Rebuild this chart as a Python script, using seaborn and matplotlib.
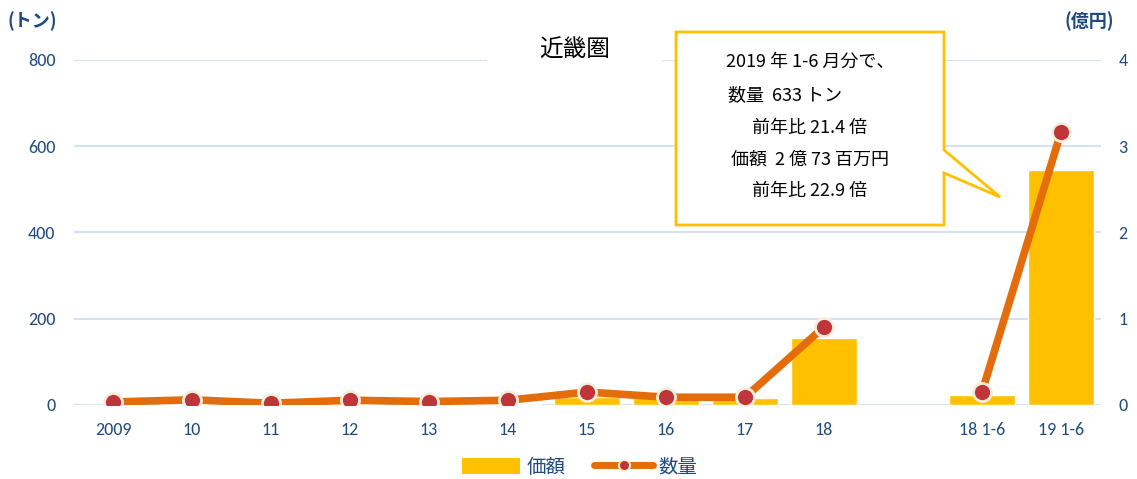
import numpy as np
import pandas as pd
import seaborn as sns
import matplotlib.pyplot as plt
from matplotlib.patches import Polygon, Patch
from matplotlib.lines import Line2D

# === DATA ===
categories = ['2009', '10', '11', '12', '13', '14', '15', '16', '17', '18', ' ', '18 1-6', '19 1-6']
value_oku = [0.005, 0.01, 0.005, 0.01, 0.01, 0.015, 0.09, 0.09, 0.08, 0.78, np.nan, 0.12, 2.73]   # 価額 (億円)
qty_ton = [7, 12, 4, 11, 8, 11, 30, 18, 18, 181, np.nan, 30, 633]                                  # 数量 (トン)
segment = [0, 0, 0, 0, 0, 0, 0, 0, 0, 0, -1, 1, 1]

callout_lines = ['2019 年 1-6 月分で、', '数量  633 トン', '前年比 21.4 倍', '価額  2 億 73 百万円', '前年比 22.9 倍']

sns.set_theme(style='white')
plt.rcParams['font.family'] = ['Noto Sans CJK JP', 'DejaVu Sans']

BAR = '#ffc000'
LINE = '#e46c0a'
MARK = '#c0353a'
TICK = '#1f497d'
GRID = '#d6e1f0'
NUMFONT = ['Carlito', 'Liberation Sans', 'DejaVu Sans']

df = pd.DataFrame({'cat': categories, 'value': value_oku, 'qty': qty_ton, 'seg': segment})
df['pos'] = np.arange(len(df))

fig = plt.figure(figsize=(11.37, 4.79), dpi=100)
ax = fig.add_axes([0.0647, 0.1545, 0.9032, 0.7203])

# bars on the 億円 scale (right side)
sns.barplot(data=df, x='cat', y='value', order=categories, color=BAR, width=0.83,
            saturation=1, ax=ax, zorder=2)
ax.set_ylim(0, 4)
ax.set_xlim(-0.5, len(categories) - 0.5)
ax.set_yticks([0, 1, 2, 3, 4])
ax.set_yticklabels(['0', '1', '2', '3', '4'])
ax.grid(axis='y', color=GRID, lw=1.5, zorder=0)
ax.set_axisbelow(True)
ax.set_xlabel('')
ax.set_ylabel('')
for s in ax.spines.values():
    s.set_visible(False)

# line on the トン scale (left side)
ax2 = ax.twinx()
line_df = df[df['seg'] >= 0]
sns.lineplot(data=line_df, x='pos', y='qty', units='seg', estimator=None, color=LINE,
             lw=5.5, marker='o', markersize=13, markerfacecolor=MARK,
             markeredgecolor='#f4efdc', markeredgewidth=2, ax=ax2, zorder=5, legend=False)
ax2.set_ylim(0, 800)
ax2.set_yticks([0, 200, 400, 600, 800])
ax2.set_xlabel('')
ax2.set_ylabel('')
ax2.grid(False)
for s in ax2.spines.values():
    s.set_visible(False)

# swap sides: bars axis on the right, line axis on the left
ax.yaxis.tick_right()
ax2.yaxis.tick_left()
ax.tick_params(axis='y', which='both', left=False, right=False, labelleft=False, labelright=True,
               length=0, pad=13, labelsize=13, labelcolor=TICK)
ax.tick_params(axis='x', length=0, pad=12, labelsize=13, labelcolor=TICK)
ax2.tick_params(axis='y', which='both', left=False, right=False, labelleft=True, labelright=False,
                length=0, pad=13, labelsize=13, labelcolor=TICK)
for t in ax.get_xticklabels() + ax.get_yticklabels() + ax2.get_yticklabels():
    t.set_fontfamily(NUMFONT)

# unit labels
fig.text(0.007, 0.955, '(トン)', fontsize=13, fontweight='bold', color=TICK, ha='left', va='center')
fig.text(0.958, 0.955, '(億円)', fontsize=13, fontweight='bold', color=TICK, ha='center', va='center')

# title with white box covering the gridline
fig.text(0.505, 0.895, '近畿圏', fontsize=17, fontweight='normal', color='black', ha='center',
         va='center', bbox=dict(facecolor='white', edgecolor='none', boxstyle='square,pad=2.2'))

# callout box
W, H = 1137, 479
pts = [(676, 32), (944, 32), (944, 150), (1000, 197), (944, 173), (944, 225), (676, 225)]
poly = Polygon([(x / W, 1 - y / H) for x, y in pts], closed=True, transform=fig.transFigure,
               facecolor='white', edgecolor=BAR, lw=2, zorder=10)
fig.add_artist(poly)
text_pos = [(810, 62), (785, 95), (810, 128), (810, 160), (810, 191)]
for s, (x, y) in zip(callout_lines, text_pos):
    fig.text(x / W, 1 - y / H, s, fontsize=13, ha='center', va='center', color='black', zorder=11)

# legend
handles = [Patch(facecolor=BAR, edgecolor='none', label='価額'),
           Line2D([0], [0], color=LINE, lw=5, marker='o', markersize=8, markerfacecolor=MARK,
                  markeredgecolor='#f4efdc', markeredgewidth=1.5, label='数量')]
fig.legend(handles=handles, loc='center', bbox_to_anchor=(0.51, 0.025), ncol=2, frameon=False,
           fontsize=14, labelcolor=TICK, handlelength=3.0, handleheight=0.9, columnspacing=1.5,
           handletextpad=0.3)

fig.savefig('out.png', dpi=100)
